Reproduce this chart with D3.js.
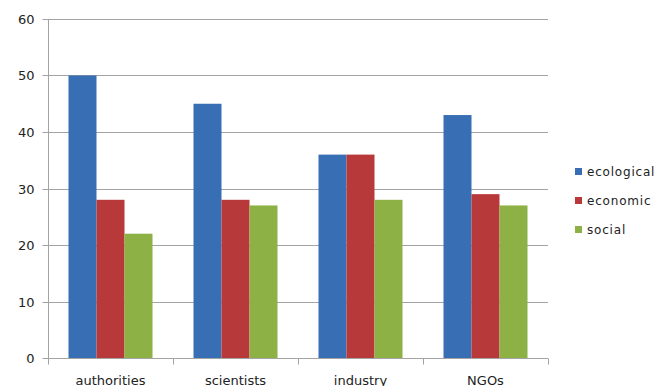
<!DOCTYPE html>
<html>
<head>
<meta charset="utf-8">
<script src="https://cdn.jsdelivr.net/npm/d3@7"></script>
<style>
  html, body { margin: 0; padding: 0; background: #fff; }
  svg text { font-family: "DejaVu Sans", sans-serif; fill: #222; }
</style>
</head>
<body>
<svg id="chart" width="656" height="386"></svg>
<script>
// Stakeholder groups and the share of each concern type
const categories = ["authorities", "scientists", "industry", "NGOs"];
const seriesNames = ["ecological", "economic", "social"];
const ecological = [50, 45, 36, 43];
const economic = [28, 28, 36, 29];
const social = [22, 27, 28, 27];
const yTicks = [0, 10, 20, 30, 40, 50, 60];
const colors = ["#386EB4", "#B8393A", "#8DB145"];

const seriesValues = [ecological, economic, social];
const rows = categories.map((c, i) => ({
  category: c,
  values: seriesNames.map((s, j) => ({ series: s, value: seriesValues[j][i] }))
}));

const svg = d3.select("#chart");
const plotLeft = 48, plotRight = 548, plotTop = 19, plotBottom = 358;

const x = d3.scaleBand().domain(categories).range([plotLeft, plotRight])
  .paddingInner(0.328).paddingOuter(0.164);
const xInner = d3.scaleBand().domain(seriesNames).range([0, x.bandwidth()]);
const y = d3.scaleLinear().domain([0, 60]).range([plotBottom, plotTop]);
const color = d3.scaleOrdinal().domain(seriesNames).range(colors);

// Horizontal gridlines
svg.append("g")
  .selectAll("line")
  .data(yTicks.filter(t => t > 0))
  .join("line")
  .attr("x1", plotLeft).attr("x2", plotRight)
  .attr("y1", d => Math.round(y(d)) + 0.5).attr("y2", d => Math.round(y(d)) + 0.5)
  .attr("stroke", "#A3A3A3").attr("stroke-width", 1);

// Bars
svg.append("g")
  .selectAll("g")
  .data(rows)
  .join("g")
  .attr("transform", d => `translate(${x(d.category)},0)`)
  .selectAll("rect")
  .data(d => d.values)
  .join("rect")
  .attr("x", d => xInner(d.series))
  .attr("width", xInner.bandwidth())
  .attr("y", d => y(d.value))
  .attr("height", d => y(0) - y(d.value))
  .attr("fill", d => color(d.series));

// Y axis
const yAxis = svg.append("g")
  .attr("transform", `translate(${plotLeft + 0.5},0)`)
  .call(d3.axisLeft(y).tickValues(yTicks).tickSize(6).tickPadding(8).tickFormat(d3.format("d")));
yAxis.select(".domain").attr("stroke", "#A3A3A3").attr("d", `M0,${plotTop}V${plotBottom}`);
yAxis.selectAll(".tick line").attr("stroke", "#A3A3A3");
yAxis.selectAll(".tick text").style("font-size", "13px").attr("fill", "#222");
yAxis.selectAll(".tick").attr("transform", d => `translate(0,${Math.round(y(d)) + 0.5})`);

// X axis with boundary ticks between categories
const xAxis = svg.append("g").attr("transform", `translate(0,${Math.round(plotBottom) + 0.5})`);
xAxis.append("line").attr("x1", plotLeft).attr("x2", plotRight).attr("stroke", "#A3A3A3");
const boundaries = d3.range(categories.length + 1).map(i => plotLeft + i * x.step());
xAxis.selectAll("line.b")
  .data(boundaries)
  .join("line").attr("class", "b")
  .attr("x1", d => Math.round(d) + 0.5).attr("x2", d => Math.round(d) + 0.5)
  .attr("y1", 0).attr("y2", 6)
  .attr("stroke", "#A3A3A3");
xAxis.selectAll("text")
  .data(categories)
  .join("text")
  .attr("x", d => x(d) + x.bandwidth() / 2)
  .attr("y", 26)
  .attr("text-anchor", "middle")
  .style("font-size", "13px")
  .text(d => d);

// Legend
const legend = svg.append("g").attr("transform", "translate(575,0)");
const ly = [172, 201, 230];
seriesNames.forEach((s, i) => {
  legend.append("rect").attr("x", 0).attr("y", ly[i] - 4).attr("width", 7).attr("height", 7)
    .attr("fill", color(s));
  legend.append("text").attr("x", 12).attr("y", ly[i]).attr("dy", "0.35em")
    .style("font-size", "12px").style("letter-spacing", "0.8px").text(s);
});
</script>
</body>
</html>
